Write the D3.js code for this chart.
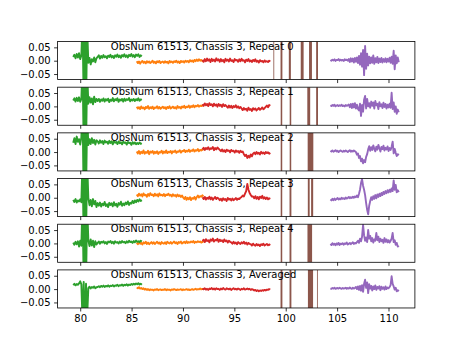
<!DOCTYPE html>
<html><head><meta charset="utf-8">
<script src="https://cdn.jsdelivr.net/npm/d3@7"></script>
<style>body{margin:0;background:#fff}svg{display:block}</style>
</head><body><div id="chart"></div>
<script>
// ---------- data (series values in units of 0.001) ----------
const titles = [
  "ObsNum 61513, Chassis 3, Repeat 0",
  "ObsNum 61513, Chassis 3, Repeat 1",
  "ObsNum 61513, Chassis 3, Repeat 2",
  "ObsNum 61513, Chassis 3, Repeat 3",
  "ObsNum 61513, Chassis 3, Repeat 4",
  "ObsNum 61513, Chassis 3, Averaged"
];
const xTicks = [80, 85, 90, 95, 100, 105, 110];
const yTicks = [-0.05, 0, 0.05];
const yTickLabels = ["\u22120.05", "0.00", "0.05"];

const greenRange  = [79.32, 86.0];
const orangeRange = [85.5, 92.0];
const redRange    = [91.9, 98.5];
const purpleRange = [104.35, 111.0];

const green = [
  [14,22,9,25,12,28,6,20, 150,-160,140,-170,120, -8,10,-14,6,-3,12,-6,9, 14,20,8,18,11,21,13,17,9,19,14,22,12,18,10,20,15,23,13,19,11,21,16,24,14,20,12,22,17,25,15,21,13,23,18,24,14,20,16],
  [22,30,18,32,20,34,17,28, 160,-150,170,-160,130, 10,34,14,30,8,36,16,28, 20,28,17,26,21,30,18,27,22,29,16,25,21,31,19,27,23,30,17,26,22,28,18,29,21,27,24,31,19,26,22,28,20,27,23,30,21,26,24],
  [35,52,30,58,38,48,28,55, 170,-180,150,-170,140, 26,48,30,52,34,46,28,44, 40,32,44,35,41,30,43,36,39,31,42,34,40,29,41,35,38,30,40,33,37,29,39,34,36,28,38,33,35,27,37,31,36,29,34,30,36,31,33],
  [-8,-16,-5,-18,-10,-14,-6,-17, 150,-170,160,-150,130, -2,-28,-8,-32,-5,-25,-12,-35, -20,-30,-18,-33,-22,-28,-16,-31,-24,-35,-19,-27,-21,-32,-17,-29,-23,-34,-20,-26,-15,-30,-22,-28,-18,-24,-14,-27,-19,-22,-12,-20,-10,-17,-8,-14,-6,-12,-9],
  [3,-5,6,-3,8,-12,10,-9, 160,-150,170,-160,140, 12,-10,15,-8,10,-14,8,-4, 2,7,-1,6,3,8,0,5,-2,7,4,9,1,6,-1,8,3,5,0,7,2,9,4,6,1,8,3,10,5,7,2,9,4,11,6,8,5,10,7],
  [15,20,14,19,16,21,29,18, -120,27,-150,20,-100, 4,9,2,8,5,10,3,7, 8,11,7,12,9,13,8,12,10,14,9,13,11,15,10,14,12,16,11,15,13,17,12,16,14,18,13,17,15,19,16,20,17,21,18,22,17,20,16]
];

const orange = [
  [-2,-9,-3,-11,-5,-1,-8,-4,-10,-2,-7,-3,-9,-5,0,-8,-4,-10,-2,-6,-1,-9,-5,-3,-8,-2,-7,-4,-10,-1,-6,-3,-8,-2,-5,0,-7,-3,-9,-1,-5,-2,-7,0,-4,-1,-6,2,-3,1,-5,3,-2,4,-1,5,0,3,-2,1],
  [-1,-8,-3,-10,0,-7,-4,-11,-2,-6,1,-9,-3,-7,-1,-10,-4,-6,0,-8,-2,-9,-5,-1,-7,-3,-10,-2,-6,0,-8,-4,-1,-7,-3,-9,1,-5,-2,-8,0,-4,2,-6,-1,-3,3,-5,1,-2,4,-3,2,0,5,-1,3,1,4,2],
  [2,-5,4,-7,1,-4,6,-6,0,-3,5,-8,2,-2,4,-6,1,-4,3,-7,0,-2,5,-5,2,-3,6,-4,1,-1,4,-5,3,0,6,-3,2,1,7,-2,4,3,8,0,5,2,9,1,6,4,10,2,7,5,11,3,8,6,10,7],
  [12,6,15,8,13,5,16,9,11,4,14,7,17,10,12,6,15,8,13,5,16,9,11,7,14,6,12,10,15,8,11,5,13,7,10,4,12,6,9,3,8, 1,-5,3,-8,0,-6,2,-9,-1,-4,3,-7, 2,8,1,6,4,9,5],
  [3,-3,5,-1,2,-4,4,0,6,-2,3,-3,1,5,-1,4,-2,2,6,0,3,-3,5,1,-1,4,-2,6,2,0,5,-1,3,7,1,4,-2,5,2,7,0,3,6,1,8,2,5,3,7,4,9,2,6,4,8,5,7,3,6,5],
  [6,3,7,2,4,0,3,-2,1,-3,0,-4,-1,-3,-2,-5,-1,-3,0,-4,-2,-1,-4,-2,-3,0,-4,-1,-3,-2,-5,-1,-3,0,-2,-4,-1,-3,-2,0,-4,-1,-3,-2,0,-3,-1,-4,-2,0,-3,-1,1,-2,0,-1,2,-1,1,0]
];

const red = [
  [3,-4,6,-2,8,0,5,-5,7,-1,4,-3,9,1,5,-4,6,-2,3,-6,7,0,4,-3,8,-1,2,-5,6,1,3,-4,5,-2,7,0,2,-6,4,-1,6,-3,1,-5,3,-2,5,-4,0,-7,2,-3,-1,-6,1,-4,-2,-5,0,-3],
  [8,2,11,4,9,1,12,5,8,0,10,3,7,-1,9,2,6,-2,8,1,5, 0,-5,3,-4,2,-6,1,-3,4,-5,0,-7,-2, -8,-14,-6,-12,-9,-16,-5,-13,-10,-17,-7,-12,-8,-15,-11,-6,-13,-9,-4,-11,-7, -2,3,-3,5,2],
  [10,16,8,15,11,18,9,14,12,19,7,15,10,17,13, 8,3,10,2,7,0,9,4,6,-1,8,3,5,-2,6,1,4,-3,5,0,2, -8,-15,-10,-22,-14,-20,-9,-16,-6, -2,-8,0,-6,-3,-9,1,-5,-2,-7,0,-4,-1,-6,-3],
  [2,-5,3,-7,0,-4,4,-6,1,-8,-2,3,-5,0, -3,-9,-4,-11,-2,-8,-5,-12,-1,-7,-4,-10,-3,-9,-6,-1,-8,-3,-5,0, 3,8,5,15,25,52,30,18,10,4, 5,-2,6,-4,3,-6,4,-1,7,-3,2,-5,1,-6,-2,-4],
  [8,14,5,16,9,12,4,15,10,18,7,13,11,17,6,14,9,12,5,15,8,11,3,10,6, 4,-1,6,0,3,-3,5,1,-2,4,0,6,-1,3,-4,2,-2, -3,-8,-1,-6,-9,-2,-7,-4,-10,-3,-6,-1,-8,-5,-2,-7,-4,-6],
  [2,-1,3,-2,1,-3,2,0,4,-1,2,-2,3,0,1,-3,2,-1,4,0,-2,3,1,-1,2,-3,0,3,-1,1,-2,2,0,-3,1,-1,3,-2,0,2,-1,1,-3,0,-2,-5,-3,-7,-4,-8,-5,-7,-4,-6,-3,-5,-2,-3,0,-1]
];

const purple = [
  [3,0,4,1,5,-1,3,2,6,0,4,1,3,-1,5,2,4,0, 6,-5,9,-3,8,-7,10,-4,12,-9, 18,-15,28,-22,40,-54,55,-30,26,-18, 15,-10,12,-8,20,-12,9,-6,14,-9, 8,-5,10,-7,6,-4,9,-6,7,-3,11,-8, 15,-12,37,-32,20,-10,12,-6],
  [4,1,5,2,6,0,3,5,1,4,2,6,1,3,0,5,2,4, 7,-3,9,-6,10,-4,12,-8,6,-10, -15,10,-36,5,-20,25,39,-8,28,0, 12,-5,18,2,15,-8,20,4,10,-10,16,0,8,-6,14,-2,9,-8,6,-4, 10,-5,51,-10,15,-20,0,-28,-12,-22],
  [5,2,6,1,4,7,2,5,0,4,6,3,1,5,2,6,3,0,4,7,1,5,2,6,3, 0,-10,-5,-22,-15,-35,-25,-42,-30,-38,-18,-8, 10,22,5,18,8,25,12,3,20,9,27,14,2,19,11,24,6,16,10,21,4,15, 8,20,39,-5,12,-3,-15,-8,-12],
  [-6,-10,-4,-9,-3,-8,-5,-1,-7,-3,-6,0,-4,-2,-5,1,-3,-1,3,-2,2,-1,4,0,5,2, 8,2,15,30,55,70,45,30,10,-20,-45,-62,-30, -12,2,-8,6,-4,10,-2,12,3,15,6,18,10,22,14,25,17,28,20,30, 22,35,25,65,30,48,20,28,21],
  [-2,-6,1,-5,-1,-7,0,-4,2,-6,-1,-3,1,-5,0,-2,3,-4,-1,2,-3,1,4,-2,2,0,5, 10,2,18,8,25,70, 30,10,22,5,50,18,28,8,20,3,15,10,39,12,25,5,18,8,14,2,20,6,15,4,12,3, 10,18,39,5,12,-5,2,-12,-8],
  [3,1,4,2,5,1,3,4,2,5,3,1,4,2,3,5,1,4,2,6,3,1,5,2,4, 8,0,10,-3,12,-6,15,-10,20,35,5,25,-15,18,2,12,-5,10,0,14,-3,8,2,11,-4,9,1,7,-2,10,0,6,3, 8,15,48,20,10,-2,5,-8,-4,-8]
];

// brown narrow bands: centres and widths (x units)
const brownCenters = [
  [98.84, 99.585, 100.40, 101.60, 102.41, 103.05],
  [99.585, 100.46, 102.24, 103.05],
  [99.585, 100.46, 102.41],
  [99.585, 100.46, 102.24, 102.57],
  [99.585, 100.46, 102.34],
  [99.585, 100.46, 102.41, 103.08]
];
const brownWidths = [
  [0.08, 0.18, 0.2, 0.28, 0.28, 0.18],
  [0.15, 0.15, 0.28, 0.18],
  [0.15, 0.15, 0.55],
  [0.15, 0.18, 0.18, 0.2],
  [0.15, 0.18, 0.45],
  [0.18, 0.18, 0.5, 0.08]
];

// ---------- layout ----------
const W = 461, H = 346;
const L = 57.6, R = 414.9, T0 = 41.5, AH = 38.07, GAP = 7.61;
const colors = {green: "#2ca02c", orange: "#ff7f0e", red: "#d62728", purple: "#9467bd", brown: "#8c564b"};
const FONT = "DejaVu Sans";

const svg = d3.select("#chart").append("svg").attr("width", W).attr("height", H);
const x = d3.scaleLinear().domain([77.8, 112.57]).range([L, R]);

function pts(vals, rng) {
  const n = vals.length;
  return vals.map((v, i) => [rng[0] + i * (rng[1] - rng[0]) / (n - 1), v / 1000]);
}

for (let p = 0; p < 6; p++) {
  const top = T0 + p * (AH + GAP);
  const y = d3.scaleLinear().domain([-0.0707, 0.0719]).range([top + AH, top]);
  const g = svg.append("g");
  const clipId = "clip" + p;
  svg.append("clipPath").attr("id", clipId).append("rect")
    .attr("x", L).attr("y", top).attr("width", R - L).attr("height", AH);
  const plot = g.append("g").attr("clip-path", `url(#${clipId})`);
  const line = d3.line().x(d => x(d[0])).y(d => y(d[1]));

  const series = [
    [orange[p], orangeRange, colors.orange],
    [green[p], greenRange, colors.green],
    [red[p], redRange, colors.red],
    [purple[p], purpleRange, colors.purple]
  ];
  series.forEach(([vals, rng, col]) => {
    plot.append("path").attr("d", line(pts(vals, rng)))
      .attr("fill", "none").attr("stroke", col).attr("stroke-width", 1.9)
      .attr("stroke-linejoin", "round");
  });
  plot.selectAll("rect.brown").data(brownCenters[p].map((c, i) => [c, brownWidths[p][i]]))
    .enter().append("rect").attr("class", "brown")
    .attr("x", d => x(d[0] - d[1] / 2)).attr("width", d => x(d[0] + d[1] / 2) - x(d[0] - d[1] / 2))
    .attr("y", top).attr("height", AH).attr("fill", colors.brown);

  // axes
  const ya = g.append("g").attr("transform", `translate(${L},0)`)
    .call(d3.axisLeft(y).tickValues(yTicks).tickSize(3.5).tickPadding(3.5)
      .tickFormat((d, i) => yTickLabels[i]));
  const xa = g.append("g").attr("transform", `translate(0,${top + AH})`)
    .call(d3.axisBottom(x).tickValues(xTicks).tickSize(3.5).tickPadding(3.5)
      .tickFormat(p === 5 ? d3.format("d") : () => ""));
  [ya, xa].forEach(a => {
    a.select(".domain").remove();
    a.selectAll("line").attr("stroke", "#000").attr("stroke-width", 0.8);
    a.selectAll("text").attr("font-family", FONT).attr("font-size", 10).attr("fill", "#000");
  });

  g.append("rect").attr("x", L).attr("y", top).attr("width", R - L).attr("height", AH)
    .attr("fill", "none").attr("stroke", "#000").attr("stroke-width", 0.8);

  g.append("text").attr("x", 110.8).attr("y", top + 8)
    .attr("font-family", FONT).attr("font-size", 10).attr("fill", "#000")
    .text(titles[p]);
}
</script>
</body></html>
